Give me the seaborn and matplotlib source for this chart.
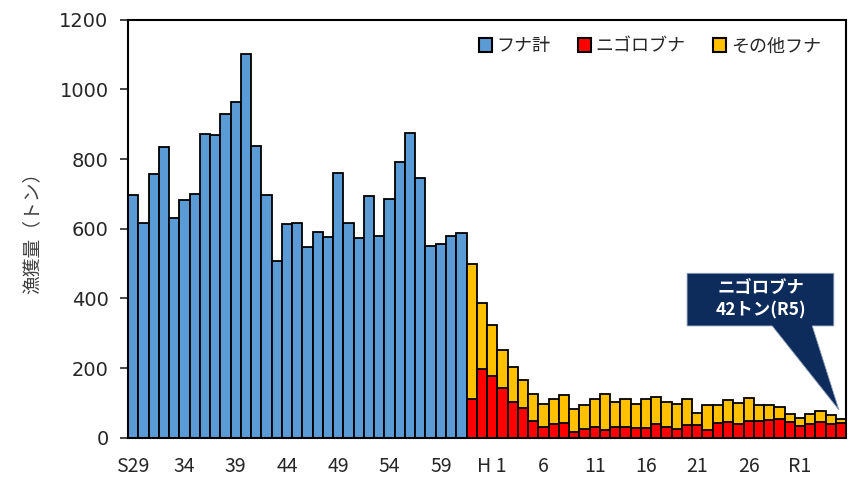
import numpy as np
import pandas as pd
import matplotlib
matplotlib.use("Agg")
import matplotlib.pyplot as plt
import seaborn as sns
from matplotlib.patches import Patch, Polygon


# -----------------------------
# Data (tons)
# -----------------------------
years = ([f"S{y}" for y in range(29, 64)]
         + [f"H{y}" for y in range(1, 31)]
         + [f"R{y}" for y in range(1, 6)])

# S29 - S61 : total crucian carp only
funa_total = [698, 615, 758, 835, 631, 682, 701, 871, 868, 928, 963, 1102,
              838, 698, 508, 613, 617, 548, 590, 577, 760, 617, 574, 695,
              580, 684, 791, 875, 745, 550, 555, 580, 588]

# S62 - R5 : split into nigorobuna / other
nigoro = [110, 198, 178, 143, 103, 86, 49, 32, 39, 43, 16, 25, 31, 21,
          31, 31, 28, 29, 40, 32, 25, 38, 38, 22, 43, 46, 39, 49, 49, 51,
          55, 45, 35, 40, 46, 40, 42]
stack_total = [498, 388, 324, 251, 202, 165, 127, 97, 111, 124, 83, 94,
               110, 127, 103, 110, 97, 112, 117, 103, 96, 111, 72, 93, 94,
               109, 99, 113, 95, 95, 87, 68, 58, 69, 76, 64, 55]
other = [t - n for t, n in zip(stack_total, nigoro)]

tick_pos = list(range(0, 70, 5))
tick_labels = ["S29", "34", "39", "44", "49", "54", "59", "H 1",
               "6", "11", "16", "21", "26", "R1"]

n_blue = len(funa_total)
df_blue = pd.DataFrame({"year": years[:n_blue], "value": funa_total})
df_late = pd.DataFrame({"year": years[n_blue:], "nigoro": nigoro,
                        "other": other, "total": stack_total})

c_blue, c_red, c_yel = "#5B9BD5", "#FF0000", "#FFC000"

# -----------------------------
# Plot
# -----------------------------
sns.set_style("white")
plt.rcParams["font.family"] = ["DejaVu Sans", "Noto Sans CJK JP"]

fig = plt.figure(figsize=(8.59, 4.80), dpi=100)
ax = fig.add_axes([0.149, 0.088, 0.836, 0.871])

bar_kw = dict(order=years, width=1.0, edgecolor="black", linewidth=1.3,
              saturation=1, ax=ax)
sns.barplot(data=df_blue, x="year", y="value", color=c_blue, **bar_kw)
sns.barplot(data=df_late, x="year", y="total", color=c_yel, **bar_kw)
sns.barplot(data=df_late, x="year", y="nigoro", color=c_red, **bar_kw)

ax.set_xlim(-0.5, len(years) - 0.5)
ax.set_ylim(0, 1200)
ax.set_yticks(range(0, 1201, 200))
ax.set_xticks(tick_pos)
ax.set_xticklabels(tick_labels, family=["Noto Sans CJK JP"], fontsize=14,
                   color="#262626")
ax.tick_params(axis="x", length=0, pad=13)
ax.tick_params(axis="y", left=True, length=6, width=1.2, pad=8,
               labelsize=14, labelcolor="#262626")
ax.set_xlabel("")
ax.set_ylabel("漁獲量（トン）", family=["Noto Sans CJK JP"], fontsize=13.5,
              color="#404040", labelpad=12)

for s in ax.spines.values():
    s.set_visible(True)
    s.set_color("black")
    s.set_linewidth(1.5)

handles = [Patch(facecolor=c_blue, edgecolor="black", linewidth=1.5),
           Patch(facecolor=c_red, edgecolor="black", linewidth=1.5),
           Patch(facecolor=c_yel, edgecolor="black", linewidth=1.5)]
ax.legend(handles, ["フナ計", "ニゴロブナ", "その他フナ"], ncol=3,
          frameon=False, loc="upper right", bbox_to_anchor=(0.975, 0.975),
          prop={"family": "Noto Sans CJK JP", "size": 13},
          handlelength=0.75, handleheight=0.75, handletextpad=0.25,
          columnspacing=1.5, borderaxespad=0)

# callout for the latest nigorobuna value
tip_x = len(years) - 1 - 0.2
tip_y = stack_total[-1] + 25
bx0, bx1, by0, by1 = tip_x - 14.8, tip_x - 0.5, 321, 472
callout = Polygon([(bx0, by0), (bx0, by1), (bx1, by1), (bx1, by0),
                   (tip_x - 2.6, by0), (tip_x, tip_y), (tip_x - 6.5, by0)],
                  closed=True, facecolor="#0D2B5B", edgecolor="#8FA0B8",
                  linewidth=0.6, zorder=5)
ax.add_patch(callout)
ax.text((bx0 + bx1) / 2, (by0 + by1) / 2,
        f"ニゴロブナ\n{nigoro[-1]}トン(R5)", ha="center", va="center",
        color="white", fontsize=12.5, fontweight="bold", linespacing=1.2,
        family=["Noto Sans CJK JP"], zorder=6)

plt.savefig("out.png", dpi=100)
plt.close()
